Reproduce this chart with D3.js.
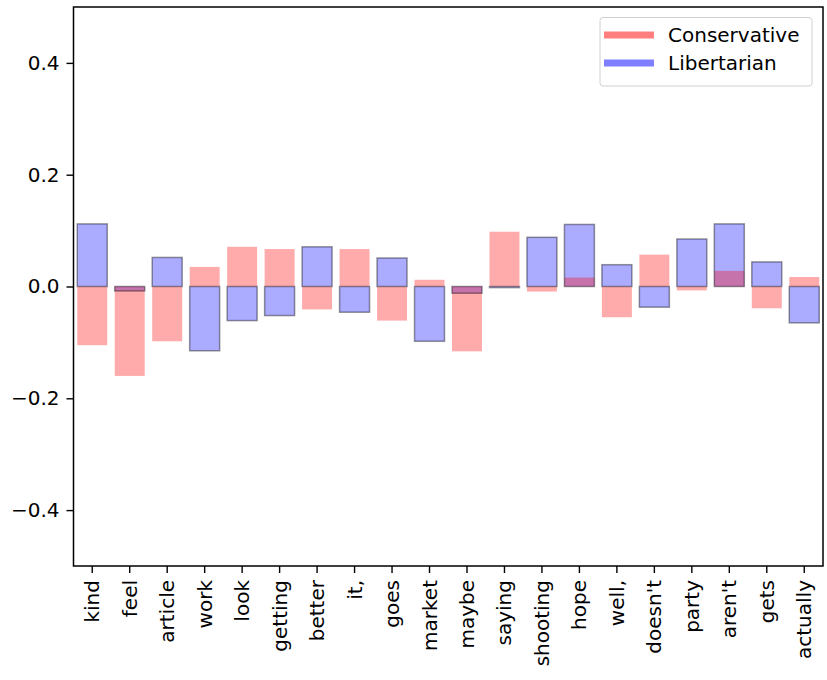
<!DOCTYPE html>
<html lang="en">
<head>
    <meta charset="UTF-8">
    <title>Conservative vs Libertarian</title>
    <script src="https://d3js.org/d3.v7.min.js"></script>
    <style>
        body { margin: 0; background: #fff; }
        text { font-family: "DejaVu Sans", sans-serif; }
    </style>
</head>
<body>
    <div id="chart"></div>

    <script>
        // words on the x axis
        const words = ["kind", "feel", "article", "work", "look", "getting", "better", "it,", "goes", "market",
                       "maybe", "saying", "shooting", "hope", "well,", "doesn't", "party", "aren't", "gets", "actually"];

        // values
        const conservative = [-0.105, -0.160, -0.098, 0.035, 0.071, 0.067, -0.041, 0.067, -0.061, 0.012,
                              -0.116, 0.098, -0.009, 0.016, -0.055, 0.057, -0.007, 0.028, -0.039, 0.017];
        const libertarian = [0.112, -0.008, 0.052, -0.115, -0.061, -0.052, 0.071, -0.046, 0.051, -0.098,
                             -0.012, -0.002, 0.088, 0.111, 0.039, -0.037, 0.085, 0.112, 0.044, -0.065];

        const yTicks = [-0.4, -0.2, 0.0, 0.2, 0.4];

        const width = 827, height = 680;
        const margin = { left: 73.5, right: 4, top: 7, bottom: 114 };
        const fontSize = 20;

        const svg = d3.select("#chart").append("svg")
            .attr("width", width)
            .attr("height", height);

        const x = d3.scaleBand()
            .domain(words)
            .range([margin.left, width - margin.right])
            .paddingInner(0.2)
            .paddingOuter(0.1);

        const y = d3.scaleLinear()
            .domain([-0.5, 0.5])
            .range([height - margin.bottom, margin.top]);

        const fmt = v => (v < 0 ? "\u2212" : "") + Math.abs(v).toFixed(1);

        // libertarian fill first, conservative on top, libertarian edges last
        svg.append("g").selectAll("rect")
            .data(libertarian)
            .join("rect")
            .attr("x", (d, i) => x(words[i]))
            .attr("width", x.bandwidth())
            .attr("y", d => y(Math.max(0, d)))
            .attr("height", d => Math.abs(y(d) - y(0)))
            .attr("fill", "blue")
            .attr("fill-opacity", 0.33);

        svg.append("g").selectAll("rect")
            .data(conservative)
            .join("rect")
            .attr("x", (d, i) => x(words[i]))
            .attr("width", x.bandwidth())
            .attr("y", d => y(Math.max(0, d)))
            .attr("height", d => Math.abs(y(d) - y(0)))
            .attr("fill", "red")
            .attr("fill-opacity", 0.33);

        svg.append("g").selectAll("rect")
            .data(libertarian)
            .join("rect")
            .attr("x", (d, i) => x(words[i]))
            .attr("width", x.bandwidth())
            .attr("y", d => y(Math.max(0, d)))
            .attr("height", d => Math.abs(y(d) - y(0)))
            .attr("fill", "none")
            .attr("stroke", "#000")
            .attr("stroke-opacity", 0.4)
            .attr("stroke-width", 1.5);

        // axes
        const xAxis = svg.append("g")
            .attr("transform", `translate(0,${height - margin.bottom})`)
            .call(d3.axisBottom(x).tickSize(7).tickPadding(7));
        xAxis.selectAll("text")
            .attr("font-size", fontSize)
            .attr("fill", "#000")
            .attr("transform", "rotate(-90)")
            .attr("text-anchor", "end")
            .attr("dy", "0.35em")
            .attr("x", -14)
            .attr("y", 0);

        const yAxis = svg.append("g")
            .attr("transform", `translate(${margin.left},0)`)
            .call(d3.axisLeft(y).tickValues(yTicks).tickFormat(fmt).tickSize(7).tickPadding(7));
        yAxis.selectAll("text").attr("font-size", fontSize).attr("fill", "#000");

        svg.selectAll(".domain").remove();
        svg.selectAll(".tick line").attr("stroke", "#000").attr("stroke-width", 1.4);

        // frame
        svg.append("rect")
            .attr("x", margin.left)
            .attr("y", margin.top)
            .attr("width", width - margin.left - margin.right)
            .attr("height", height - margin.top - margin.bottom)
            .attr("fill", "none")
            .attr("stroke", "#000")
            .attr("stroke-width", 1.5);

        // legend
        const series = [{ name: "Conservative", color: "red" }, { name: "Libertarian", color: "blue" }];
        const legend = svg.append("g");
        legend.append("rect")
            .attr("x", 600).attr("y", 17.5)
            .attr("width", 212).attr("height", 68.5)
            .attr("rx", 3)
            .attr("fill", "#fff").attr("fill-opacity", 0.8)
            .attr("stroke", "#d0d0d0");
        series.forEach((s, i) => {
            const ly = 35 + i * 28;
            legend.append("line")
                .attr("x1", 604).attr("x2", 654)
                .attr("y1", ly).attr("y2", ly)
                .attr("stroke", s.color).attr("stroke-opacity", 0.5)
                .attr("stroke-width", 7);
            legend.append("text")
                .attr("x", 668).attr("y", ly)
                .attr("dy", "0.35em")
                .attr("font-size", fontSize)
                .text(s.name);
        });
    </script>
</body>
</html>
